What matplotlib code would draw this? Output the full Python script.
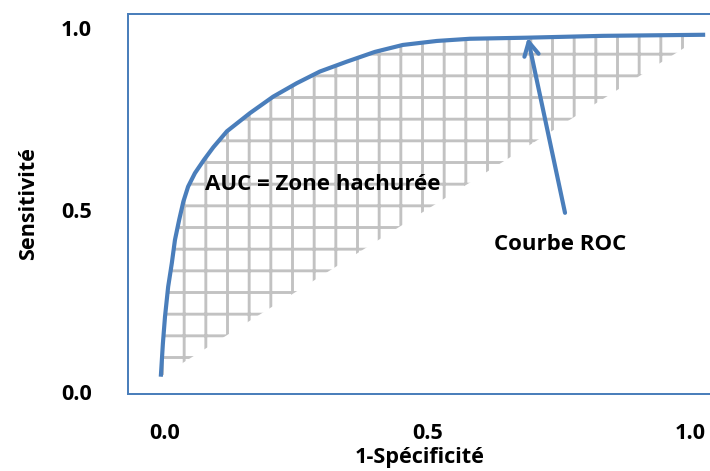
import numpy as np
import matplotlib
matplotlib.use('Agg')
import matplotlib.pyplot as plt

# data
fpr = [-0.008, -0.004, 0.000, 0.006, 0.013, 0.019, 0.027, 0.035, 0.044,
       0.057, 0.074, 0.092, 0.118, 0.162, 0.206, 0.251, 0.295,
       0.346, 0.400, 0.453, 0.518, 0.581, 0.691, 0.834, 1.029]
tpr = [0.042, 0.134, 0.207, 0.289, 0.354, 0.418, 0.473, 0.523, 0.564,
       0.601, 0.637, 0.672, 0.716, 0.766, 0.811, 0.848, 0.880,
       0.907, 0.934, 0.953, 0.964, 0.970, 0.973, 0.978, 0.981]
tick_vals = [0.0, 0.5, 1.0]
tick_labels = ['0.0', '0.5', '1.0']

arrow_tip = (0.691, 0.973)
arrow_tail = (0.762, 0.492)

blue = '#4a7ebb'
dpi = 130

plt.rcParams['font.family'] = ['Open Sans', 'DejaVu Sans']
plt.rcParams['font.weight'] = 'bold'
plt.rcParams['hatch.linewidth'] = 1.6

fig = plt.figure(figsize=(710 / dpi, 471 / dpi), dpi=dpi)
ax = fig.add_axes([128 / 710, 1 - 394 / 471, 584 / 710, 380 / 471])

# hatched area between the curve and the chord
ax.fill(fpr, tpr, facecolor='none', edgecolor='#c2c2c2', hatch='+', linewidth=0)

# ROC curve
ax.plot(fpr, tpr, color=blue, lw=2.3, solid_capstyle='butt', solid_joinstyle='round')

ax.annotate('', xy=arrow_tip, xytext=arrow_tail,
            arrowprops=dict(arrowstyle='->,head_length=0.75,head_width=0.4',
                            lw=2.3, color=blue, shrinkA=0, shrinkB=0))

fs = 12.3
ax.text(0.753, 0.404, 'Courbe ROC', ha='center', va='center', fontsize=fs, fontweight='bold')
ax.text(0.076, 0.569, 'AUC = Zone hachurée', ha='left', va='center', fontsize=fs, fontweight='bold')

ax.set_xlim(-0.0705, 1.042)
ax.set_ylim(-0.0055, 1.038)

ax.set_xticks(tick_vals)
ax.set_xticklabels(tick_labels)
ax.set_yticks(tick_vals)
ax.set_yticklabels(tick_labels)
ax.tick_params(length=0, labelsize=12)
ax.tick_params(axis='x', pad=16)
ax.tick_params(axis='y', pad=20)

ax.set_xlabel('1-Spécificité', fontsize=12, fontweight='bold', labelpad=2)
ax.set_ylabel('Sensitivité', fontsize=12, fontweight='bold', labelpad=12)

for side in ['left', 'top', 'bottom']:
    ax.spines[side].set_color(blue)
    ax.spines[side].set_linewidth(1.1)
ax.spines['right'].set_visible(False)

fig.savefig('out.png', dpi=dpi)
